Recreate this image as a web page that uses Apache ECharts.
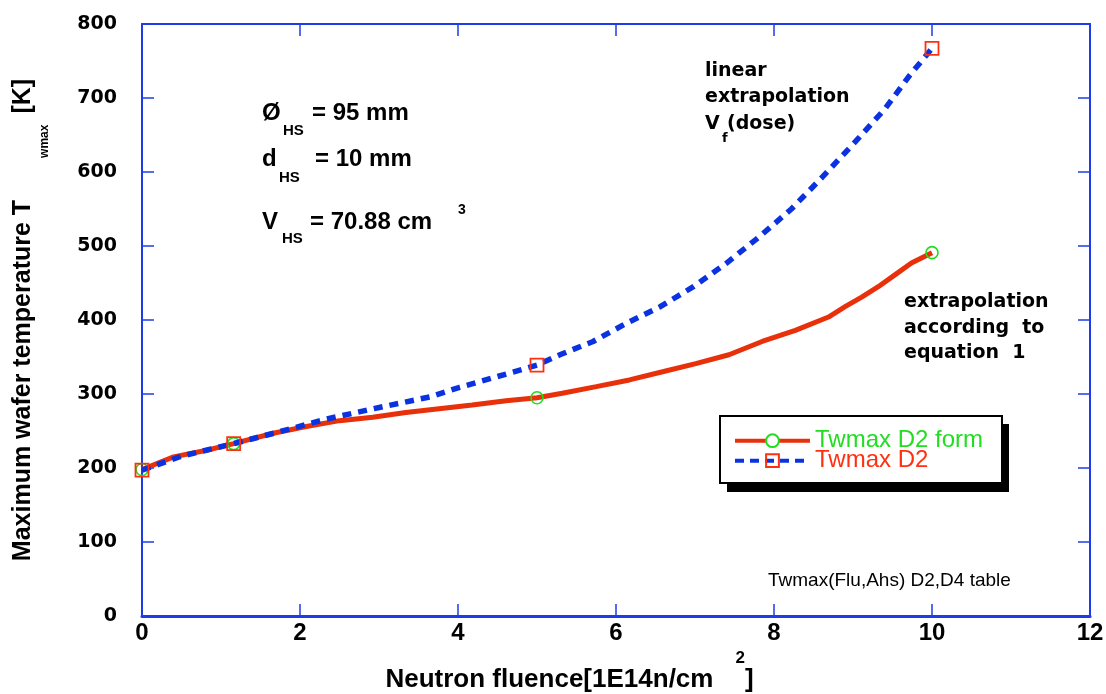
<!DOCTYPE html>
<html>
<head>
<meta charset="utf-8">
<script src="https://cdn.jsdelivr.net/npm/echarts@6/dist/echarts.min.js"></script>
<style>
html,body{margin:0;padding:0;background:#fff;}
#chart{width:1106px;height:694px;}
</style>
</head>
<body>
<div id="chart"></div>
<script>
// ---- data ----
const formX = [0, 0.40, 0.82, 1.16, 1.66, 2.08, 2.50, 2.92, 3.34, 3.76, 4.18, 4.61, 5.0, 5.32, 5.75, 6.17, 6.59, 7.01, 7.43, 7.85, 8.27, 8.69, 8.90, 9.11, 9.32, 9.53, 9.74, 10.0];
const formY = [198, 215, 224, 233, 247, 256, 264, 268.5, 275, 280, 285, 291, 295, 301, 310, 319, 330, 341, 353, 371, 386, 404, 418, 431, 445, 461, 477, 491];
const formMarkX = [0, 1.16, 5.0, 10.0];

const d2X = [0, 0.5, 1.16, 1.74, 2.33, 2.99, 3.64, 4.02, 4.48, 5.0, 5.29, 5.71, 6.14, 6.56, 6.98, 7.40, 7.82, 8.22, 8.62, 9.03, 9.41, 9.72, 10.0];
const d2Y = [197, 216, 233, 249, 266, 281.5, 296, 309, 323, 339, 353, 371, 396, 418, 445, 477, 513, 550, 594, 641, 686, 731, 767];
const d2MarkX = [0, 1.16, 5.0, 10.0];

const xTicks = [0, 2, 4, 6, 8, 10, 12];
const yTicks = [0, 100, 200, 300, 400, 500, 600, 700, 800];
const seriesNames = ['Twmax D2 form', 'Twmax D2'];

// ---- styles ----
const AX = '#1e3ce6';
const RED_LINE = '#e8300a';
const BLUE_LINE = '#0a32e0';
const GREEN = '#22dd22';
const RED_MARK = '#ff3010';
const SANS = '"Liberation Sans", Arial, sans-serif';
const DEJA = '"DejaVu Sans", sans-serif';

function build(xs, ys, marks) {
  return xs.map((x, i) => marks.indexOf(x) >= 0 ? [x, ys[i]] : { value: [x, ys[i]], symbol: 'none' });
}

const chart = echarts.init(document.getElementById('chart'), null, { renderer: 'canvas' });

function axisX(pos, show) {
  return {
    type: 'value', position: pos, min: xTicks[0], max: xTicks[xTicks.length - 1], interval: 2,
    axisLine: { show: true, onZero: false, lineStyle: { color: AX, width: pos === 'bottom' ? 3 : 2 } },
    axisTick: { show: true, inside: true, length: 12, lineStyle: { color: AX, width: 1.5 } },
    splitLine: { show: false },
    axisLabel: { show: show, margin: 5, color: '#000', fontFamily: SANS, fontWeight: 'bold', fontSize: 24 },
    nameMoveOverlap: false
  };
}
function axisY(pos, show) {
  return {
    type: 'value', position: pos, min: yTicks[0], max: yTicks[yTicks.length - 1], interval: 100,
    axisLine: { show: true, onZero: false, lineStyle: { color: AX, width: 2 } },
    axisTick: { show: true, inside: true, length: 12, lineStyle: { color: AX, width: 1.5 } },
    splitLine: { show: false },
    axisLabel: { show: show, margin: 25, color: '#000', fontFamily: DEJA, fontWeight: 'bold', fontSize: 19 },
    nameMoveOverlap: false
  };
}

const xBottom = axisX('bottom', true);
xBottom.name = '{a|Neutron fluence[1E14n/cm}{s|2}{a|]}';
xBottom.nameLocation = 'middle';
xBottom.nameGap = 34;
xBottom.nameTextStyle = {
  padding: [0, 93, 0, 0],
  rich: {
    a: { fontFamily: SANS, fontWeight: 'bold', fontSize: 26, color: '#000', lineHeight: 60, verticalAlign: 'middle' },
    s: { fontFamily: SANS, fontWeight: 'bold', fontSize: 17, color: '#000', lineHeight: 10, padding: [0, 0, 0, 22], verticalAlign: 'top' }
  }
};

const yLeft = axisY('left', true);
yLeft.name = '{a|Maximum wafer temperature T}{s|wmax}{a|[K]}';
yLeft.nameLocation = 'middle';
yLeft.nameGap = 63;
yLeft.nameTextStyle = {
  rich: {
    a: { fontFamily: SANS, fontWeight: 'bold', fontSize: 25, color: '#000', lineHeight: 30, verticalAlign: 'top' },
    s: { fontFamily: SANS, fontWeight: 'bold', fontSize: 12, color: '#000', lineHeight: 68, padding: [0, 11, 0, 42], verticalAlign: 'middle' }
  }
};

function txt(x, y, text, font, color) {
  return { type: 'text', x: x, y: y, z: 100, silent: true,
    style: { text: text, font: font, fill: color || '#000', align: 'left', verticalAlign: 'middle' } };
}
const B24 = 'bold 24px "Liberation Sans"';
const B15 = 'bold 15px "Liberation Sans"';
const D19 = 'bold 19px "DejaVu Sans"';

const option = {
  animation: false,
  backgroundColor: '#fff',
  grid: { left: 142, right: 16, top: 24, bottom: 78, containLabel: false, outerBoundsMode: 'none' },
  xAxis: [xBottom, axisX('top', false)],
  yAxis: [yLeft, axisY('right', false)],
  legend: {
    orient: 'vertical', left: 733, top: 428.7,
    padding: 0, itemGap: -4, itemWidth: 75, itemHeight: 16,
    selectedMode: false,
    textStyle: { fontFamily: SANS, fontSize: 24 },
    data: [
      { name: seriesNames[0], textStyle: { color: GREEN }, itemStyle: { color: '#fff' }, lineStyle: { width: 4 } },
      { name: seriesNames[1], textStyle: { color: RED_MARK }, lineStyle: { width: 4, type: [9, 6] } }
    ]
  },
  series: [
    {
      name: seriesNames[0], type: 'line', xAxisIndex: 0, yAxisIndex: 0,
      data: build(formX, formY, formMarkX),
      symbol: 'circle', symbolSize: 12, showSymbol: true, clip: false,
      lineStyle: { color: RED_LINE, width: 5 },
      itemStyle: { color: 'rgba(0,0,0,0)', borderColor: GREEN, borderWidth: 1.6 },
      z: 2
    },
    {
      name: seriesNames[1], type: 'line', xAxisIndex: 0, yAxisIndex: 0,
      data: build(d2X, d2Y, d2MarkX),
      symbol: 'rect', symbolSize: 13, showSymbol: true, clip: false,
      lineStyle: { color: BLUE_LINE, width: 5.5, type: [9, 7] },
      itemStyle: { color: 'rgba(0,0,0,0)', borderColor: RED_MARK, borderWidth: 1.8 },
      z: 3
    }
  ],
  graphic: [
    { type: 'rect', z: 1, silent: true, shape: { x: 727, y: 424, width: 282, height: 68 }, style: { fill: '#000' } },
    { type: 'rect', z: 1, silent: true, shape: { x: 720, y: 416, width: 282, height: 67 }, style: { fill: '#fff', stroke: '#000', lineWidth: 2 } },
    txt(262, 113, 'Ø', B24), txt(283, 131, 'HS', B15), txt(312, 113, '= 95 mm', B24),
    txt(262, 159, 'd', B24), txt(279, 178, 'HS', B15), txt(315, 159, '= 10 mm', B24),
    txt(262, 222, 'V', B24), txt(282, 239, 'HS', B15), txt(310, 222, '= 70.88 cm', B24),
    txt(458, 210, '3', 'bold 14px "Liberation Sans"'),
    txt(705, 71, 'linear', D19), txt(705, 97, 'extrapolation', D19),
    txt(705, 124, 'V', D19), txt(722, 139, 'f', 'bold 13px "DejaVu Sans"'), txt(727, 124, '(dose)', D19),
    txt(904, 302, 'extrapolation', D19), txt(904, 328, 'according  to', D19), txt(904, 353, 'equation  1', D19),
    txt(768, 581, 'Twmax(Flu,Ahs) D2,D4 table', '19px "Liberation Sans"')
  ]
};
chart.setOption(option);
</script>
</body>
</html>
